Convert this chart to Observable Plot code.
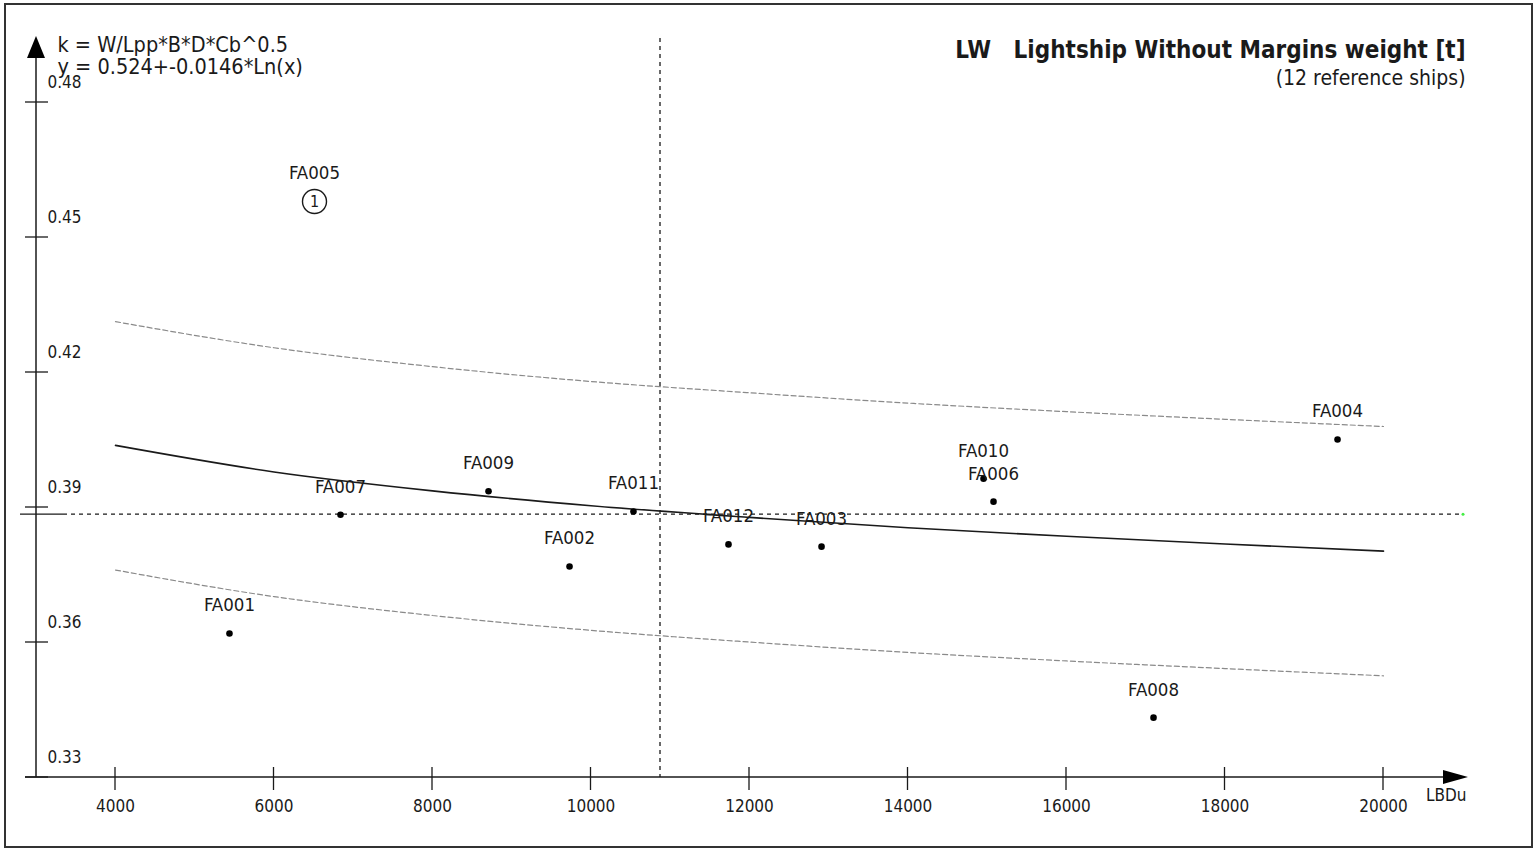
<!DOCTYPE html>
<html><head><meta charset="utf-8">
<script src="https://cdn.jsdelivr.net/npm/d3@7"></script>
<script src="https://cdn.jsdelivr.net/npm/@observablehq/plot@0.6"></script>
<style>
body{margin:0;background:#fff}
svg{display:block}
</style>
</head><body><div id="chart"></div>
<script>
// ---- data ----
const shipNames = ["FA001","FA005","FA007","FA009","FA002","FA011","FA012","FA003","FA010","FA006","FA008","FA004"];
const shipLBDu  = [5438, 6511, 6839, 8707, 9729, 10536, 11735, 12909, 14953, 15079, 17098, 19420];
const shipK     = [0.3620, 0.4580, 0.3884, 0.3936, 0.3769, 0.3891, 0.3818, 0.3813, 0.3964, 0.3913, 0.3433, 0.4051];
const excludedShips = ["FA005"];
const excludedMarks = ["1"];

const fitLBDu  = [4000, 6000, 8000, 10000, 12000, 14000, 16000, 18000, 20000];
const fitK     = [0.4038, 0.3979, 0.3937, 0.3904, 0.3878, 0.3855, 0.3836, 0.3819, 0.3803];
const upperK   = [0.4313, 0.4255, 0.4213, 0.4180, 0.4155, 0.4132, 0.4113, 0.4096, 0.4080];
const lowerK   = [0.3761, 0.3702, 0.3660, 0.3627, 0.3601, 0.3578, 0.3559, 0.3542, 0.3526];

const meanLBDu = 10877;
const meanK = 0.3884;

const xTicks = [4000, 6000, 8000, 10000, 12000, 14000, 16000, 18000, 20000];
const yTicks = [0.33, 0.36, 0.39, 0.42, 0.45, 0.48];
const yTickLabels = ["0.33", "0.36", "0.39", "0.42", "0.45", "0.48"];

const titleText = "LW   Lightship Without Margins weight [t]";
const subtitleText = "(12 reference ships)";
const formulaLines = ["k = W/Lpp*B*D*Cb^0.5", "y = 0.524+-0.0146*Ln(x)"];
const xAxisName = "LBDu";

// ---- tables ----
const ships = shipNames.map((n, i) => ({name: n, x: shipLBDu[i], k: shipK[i], excluded: excludedShips.includes(n)}));
const normal = ships.filter(d => !d.excluded);
const outliers = ships.filter(d => d.excluded).map((d, i) => ({...d, mark: excludedMarks[i]}));
const fit = fitLBDu.map((x, i) => ({x, k: fitK[i], up: upperK[i], lo: lowerK[i]}));

const FONT = "'DejaVu Sans Condensed', 'Liberation Sans', sans-serif";
const INK = "#1a1a1a";

// decorations drawn with the plot's own scales and dimensions
function decorations(index, scales, values, dims) {
  const {x, y} = scales;
  const g = d3.create("svg:g").attr("fill", "none").attr("stroke", INK);
  const ax = dims.marginLeft;
  const ay = y(yTicks[0]);
  const right = dims.width - dims.marginRight;
  // border
  g.append("rect").attr("x", 5).attr("y", 4).attr("width", dims.width - 10).attr("height", dims.height - 7)
    .attr("stroke", "#333").attr("stroke-width", 2);
  // mean lines
  g.append("line").attr("x1", ax + 27).attr("x2", right + 16).attr("y1", y(meanK)).attr("y2", y(meanK))
    .attr("stroke-dasharray", "4,4").attr("stroke-width", 1.3);
  g.append("line").attr("x1", ax - 16).attr("x2", ax + 27).attr("y1", y(meanK)).attr("y2", y(meanK)).attr("stroke-width", 1.3);
  g.append("line").attr("x1", x(meanLBDu)).attr("x2", x(meanLBDu)).attr("y1", dims.marginTop).attr("y2", ay)
    .attr("stroke-dasharray", "4,4").attr("stroke-width", 1.3);
  g.append("circle").attr("cx", right + 18).attr("cy", y(meanK)).attr("r", 1.5).attr("fill", "#44ee44").attr("stroke", "none");
  // y axis
  g.append("line").attr("x1", ax).attr("x2", ax).attr("y1", ay).attr("y2", dims.marginTop + 6).attr("stroke-width", 1.5);
  g.append("path").attr("d", `M${ax},${dims.marginTop - 2}L${ax + 9},${dims.marginTop + 20}L${ax - 9},${dims.marginTop + 20}Z`)
    .attr("fill", "#000").attr("stroke", "none");
  for (const t of yTicks) {
    g.append("line").attr("x1", ax - 11).attr("x2", ax + 12).attr("y1", y(t)).attr("y2", y(t)).attr("stroke-width", 1.3);
  }
  // x axis
  g.append("line").attr("x1", ax - 11).attr("x2", right).attr("y1", ay).attr("y2", ay).attr("stroke-width", 1.5);
  g.append("path").attr("d", `M${right + 23},${ay}L${right - 2},${ay - 7}L${right - 2},${ay + 7}Z`)
    .attr("fill", "#000").attr("stroke", "none");
  for (const t of xTicks) {
    g.append("line").attr("x1", x(t)).attr("x2", x(t)).attr("y1", ay - 10).attr("y2", ay + 13).attr("stroke-width", 1.3);
  }
  return g.node();
}

const chart = Plot.plot({
  width: 1537,
  height: 850,
  marginLeft: 36,
  marginRight: 92,
  marginTop: 38,
  marginBottom: 73,
  style: {fontFamily: FONT, background: "#fff", color: INK},
  x: {domain: [4000, 20000], range: [115, 1383], axis: null},
  y: {domain: [0.33, 0.48], range: [777, 102], axis: null},
  marks: [
    decorations,
    Plot.line(fit, {x: "x", y: "up", stroke: "#8a8a8a", strokeWidth: 1.2, strokeDasharray: "5,3", curve: "monotone-x"}),
    Plot.line(fit, {x: "x", y: "lo", stroke: "#8a8a8a", strokeWidth: 1.2, strokeDasharray: "5,3", curve: "monotone-x"}),
    Plot.line(fit, {x: "x", y: "k", stroke: INK, strokeWidth: 1.6, curve: "monotone-x"}),
    Plot.dot(normal, {x: "x", y: "k", r: 3.3, fill: "#000"}),
    Plot.dot(outliers, {x: "x", y: "k", r: 12, stroke: INK, strokeWidth: 1.4, fill: "none"}),
    Plot.text(outliers, {x: "x", y: "k", text: "mark", fontSize: 16, fill: INK}),
    Plot.text(ships, {x: "x", y: "k", text: "name", dy: -28, fontSize: 18.5, fill: INK}),
    // tick labels
    Plot.text(xTicks, {x: d => d, frameAnchor: "bottom", dy: 34, text: d => String(d), fontSize: 17, fill: INK}),
    Plot.text(yTicks, {y: d => d, frameAnchor: "left", dx: 11, dy: -20, textAnchor: "start", text: (d, i) => yTickLabels[i], fontSize: 17, fill: INK}),
    Plot.text([xAxisName], {frameAnchor: "bottom-right", dx: 21, dy: 23, text: d => d, fontSize: 17, fill: INK}),
    // formula and titles
    Plot.text([formulaLines[0]], {frameAnchor: "top-left", dx: 21, dy: 7, textAnchor: "start", lineAnchor: "middle", text: d => d, fontSize: 21.5, fill: INK}),
    Plot.text([formulaLines[1]], {frameAnchor: "top-left", dx: 21, dy: 29, textAnchor: "start", lineAnchor: "middle", text: d => d, fontSize: 21.5, fill: INK}),
    Plot.text([titleText], {frameAnchor: "top-right", dx: 20, dy: 12, textAnchor: "end", lineAnchor: "middle", text: d => d, fontSize: 24, fontWeight: "bold", fill: INK}),
    Plot.text([subtitleText], {frameAnchor: "top-right", dx: 20, dy: 40, textAnchor: "end", lineAnchor: "middle", text: d => d, fontSize: 21, fill: INK})
  ]
});
document.getElementById("chart").appendChild(chart);
</script>
</body></html>
